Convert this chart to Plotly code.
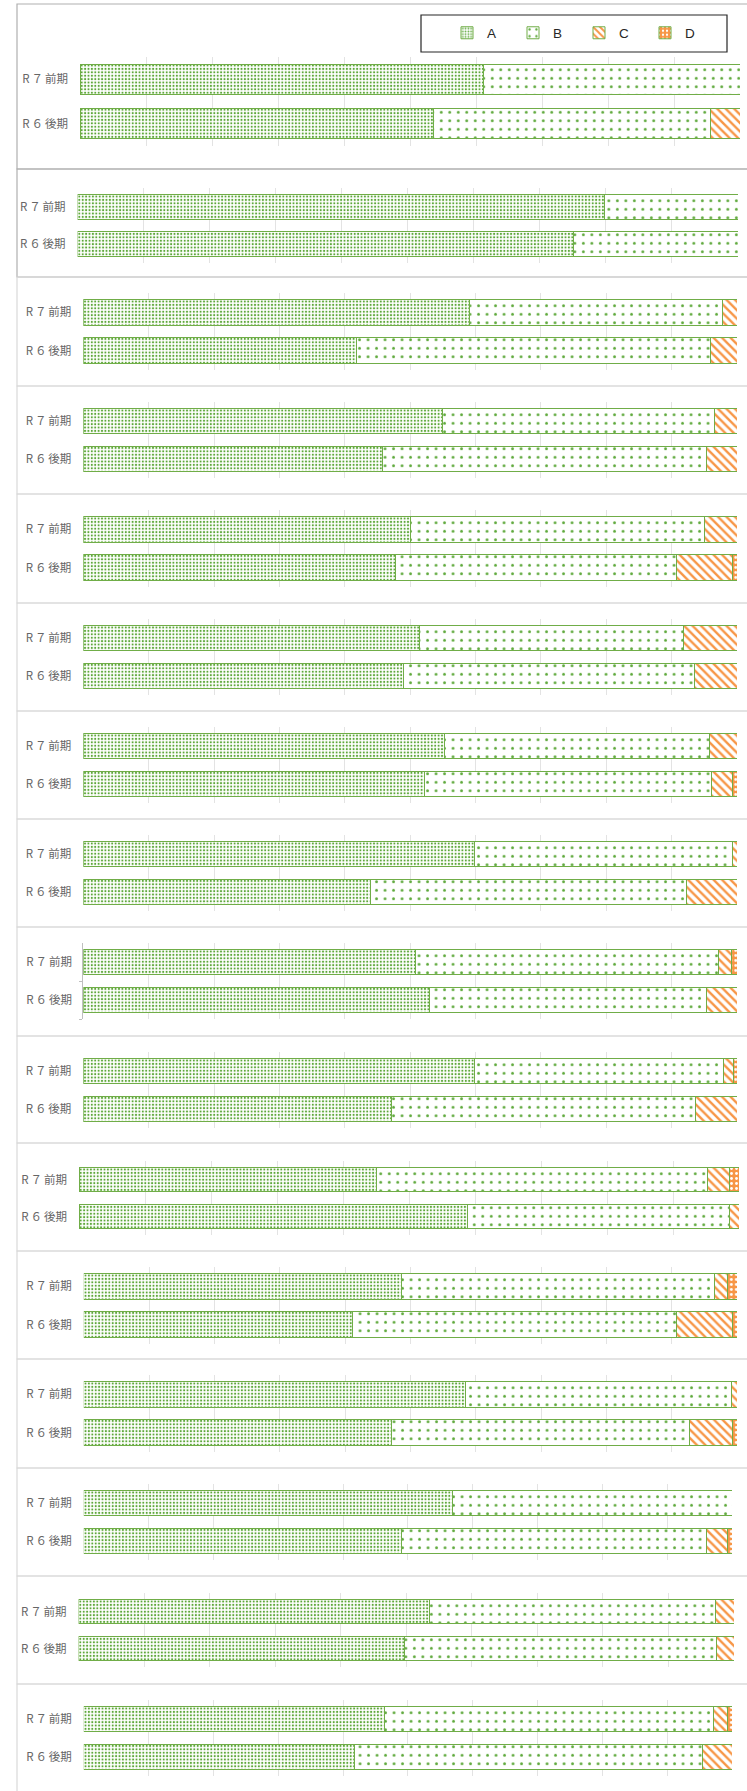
import plotly.graph_objects as go

W, H = 747, 1791

periods = ["R7前期", "R6後期"]
period_labels = ["R\u2006７\u2006前期", "R\u2006６\u2006後期"]
series_names = ["A", "B", "C", "D"]

# shares per panel (16 panels, top to bottom)
A_R7 = [0.612, 0.798, 0.591, 0.549, 0.500, 0.514, 0.553, 0.598, 0.508, 0.599, 0.451, 0.486, 0.584, 0.569, 0.536, 0.464]
B_R7 = [0.388, 0.202, 0.387, 0.416, 0.451, 0.404, 0.405, 0.395, 0.464, 0.381, 0.501, 0.479, 0.408, 0.431, 0.436, 0.508]
C_R7 = [0.000, 0.000, 0.022, 0.035, 0.049, 0.082, 0.042, 0.007, 0.020, 0.014, 0.034, 0.020, 0.008, 0.000, 0.028, 0.021]
D_R7 = [0.000, 0.000, 0.000, 0.000, 0.000, 0.000, 0.000, 0.000, 0.008, 0.006, 0.014, 0.015, 0.000, 0.000, 0.000, 0.007]

A_R6 = [0.536, 0.751, 0.418, 0.457, 0.477, 0.490, 0.522, 0.439, 0.530, 0.472, 0.589, 0.411, 0.471, 0.490, 0.497, 0.418]
B_R6 = [0.419, 0.249, 0.542, 0.497, 0.431, 0.445, 0.439, 0.483, 0.424, 0.464, 0.397, 0.497, 0.456, 0.470, 0.477, 0.536]
C_R6 = [0.045, 0.000, 0.040, 0.046, 0.085, 0.065, 0.032, 0.078, 0.046, 0.064, 0.014, 0.085, 0.066, 0.033, 0.026, 0.046]
D_R6 = [0.000, 0.000, 0.000, 0.000, 0.007, 0.000, 0.007, 0.000, 0.000, 0.000, 0.000, 0.007, 0.007, 0.007, 0.000, 0.000]

R7 = {"A": A_R7, "B": B_R7, "C": C_R7, "D": D_R7}
R6 = {"A": A_R6, "B": B_R6, "C": C_R6, "D": D_R6}

# layout geometry (pixels)
panel_tops = [4, 169, 277, 386, 494, 603, 711, 819, 927, 1036, 1143, 1251, 1359, 1468, 1576, 1684]
plot_top = [57, 188, 293, 402, 510, 619, 727, 835, 943, 1052, 1161, 1267, 1375, 1484, 1593, 1700]
plot_bot = [146, 263, 370, 478, 587, 695, 803, 911, 1019, 1128, 1235, 1344, 1452, 1560, 1667, 1776]
plot_x0 = [80, 77.6, 83.3, 83.3, 83.3, 83.3, 83.3, 83.3, 83.3, 83.3, 79, 83.8, 83.8, 83.8, 78.6, 83.8]
plot_x1 = [740, 738, 737, 737, 737, 737, 737, 737, 737, 737, 739, 737, 737, 732, 734, 732]

GREEN = "#70AD47"
DOT = "#5DA83A"
ORANGE = "#F79646"

styles = {
    "A": dict(color="white", line=dict(color=GREEN, width=1),
              pattern=dict(shape=".", fgcolor=DOT, bgcolor="white", size=3.4, solidity=0.3, fillmode="replace")),
    "B": dict(color="white", line=dict(color=GREEN, width=1),
              pattern=dict(shape=".", fgcolor=DOT, bgcolor="white", size=8.5, solidity=0.09, fillmode="replace")),
    "C": dict(color="white", line=dict(color=GREEN, width=1),
              pattern=dict(shape="\\", fgcolor=ORANGE, bgcolor="white", size=6, solidity=0.4, fillmode="replace")),
    "D": dict(color=ORANGE, line=dict(color=GREEN, width=1),
              pattern=dict(shape=".", fgcolor="white", bgcolor=ORANGE, size=5, solidity=0.25, fillmode="replace")),
}

fig = go.Figure()
n = len(A_R7)
for i in range(n):
    xa = "x" if i == 0 else f"x{i+1}"
    ya = "y" if i == 0 else f"y{i+1}"
    for s in series_names:
        vals = [R7[s][i], R6[s][i]]
        vals = [v if v > 0 else None for v in vals]
        fig.add_trace(go.Bar(
            y=periods, x=vals, orientation="h", name=s,
            xaxis=xa, yaxis=ya, marker=styles[s],
            showlegend=(i == 0), legendgroup=s, hoverinfo="x+y+name",
        ))

layout = dict(
    width=W, height=H, margin=dict(l=0, r=0, t=0, b=0, pad=0),
    paper_bgcolor="white", plot_bgcolor="white",
    barmode="stack", bargap=0.325,
    font=dict(family="Liberation Sans, Arial, sans-serif", color="#404040"),
    legend=dict(orientation="h", x=447 / W, xanchor="left", y=1 - 33 / H, yanchor="middle",
                traceorder="normal", font=dict(size=13.5, color="#262626",
                                               family="Liberation Sans, Arial, sans-serif"),
                bgcolor="rgba(0,0,0,0)", borderwidth=0, entrywidth=21, entrywidthmode="pixels"),
    shapes=[],
)

for i in range(n):
    xk = "xaxis" if i == 0 else f"xaxis{i+1}"
    yk = "yaxis" if i == 0 else f"yaxis{i+1}"
    ya = "y" if i == 0 else f"y{i+1}"
    xa = "x" if i == 0 else f"x{i+1}"
    layout[xk] = dict(domain=[plot_x0[i] / W, plot_x1[i] / W], anchor=ya, range=[0, 1],
                      tick0=0, dtick=0.1, showticklabels=False, ticks="",
                      showgrid=True, gridcolor="#E3E3E3", gridwidth=1, zeroline=False,
                      showline=False, fixedrange=True)
    ydict = dict(domain=[1 - plot_bot[i] / H, 1 - plot_top[i] / H], anchor=xa,
                 type="category", categoryorder="array", categoryarray=["R6後期", "R7前期"],
                 tickmode="array", tickvals=periods, ticktext=period_labels,
                 showgrid=False, zeroline=False, ticks="", ticklabelstandoff=11,
                 tickfont=dict(family="Noto Sans CJK JP", size=11.5, color="#666666"),
                 fixedrange=True)
    if i == 8:
        ydict.update(showline=True, linecolor="#BFBFBF", linewidth=1, ticks="outside",
                     tickson="boundaries", ticklen=3, tickcolor="#BFBFBF", ticklabelstandoff=8)
    layout[yk] = ydict

# panel frames
for i in range(n):
    top = panel_tops[i]
    bot = panel_tops[i + 1] if i + 1 < n else H + 2
    col = "#B0B0B0" if i < 2 else "#D9D9D9"
    layout["shapes"].append(dict(type="rect", xref="paper", yref="paper",
                                 x0=17 / W, x1=(W + 3) / W, y0=1 - bot / H, y1=1 - top / H,
                                 line=dict(color=col, width=1.2), fillcolor="rgba(0,0,0,0)",
                                 layer="below"))
# legend frame
layout["shapes"].append(dict(type="rect", xref="paper", yref="paper",
                             x0=421 / W, x1=727 / W, y0=1 - 52 / H, y1=1 - 15 / H,
                             line=dict(color="#262626", width=1.2), fillcolor="rgba(0,0,0,0)"))

fig.update_layout(**layout)
fig.write_html("out.html", config={"displayModeBar": False},
               post_script="document.body.style.margin='0';document.body.style.overflow='hidden';")
